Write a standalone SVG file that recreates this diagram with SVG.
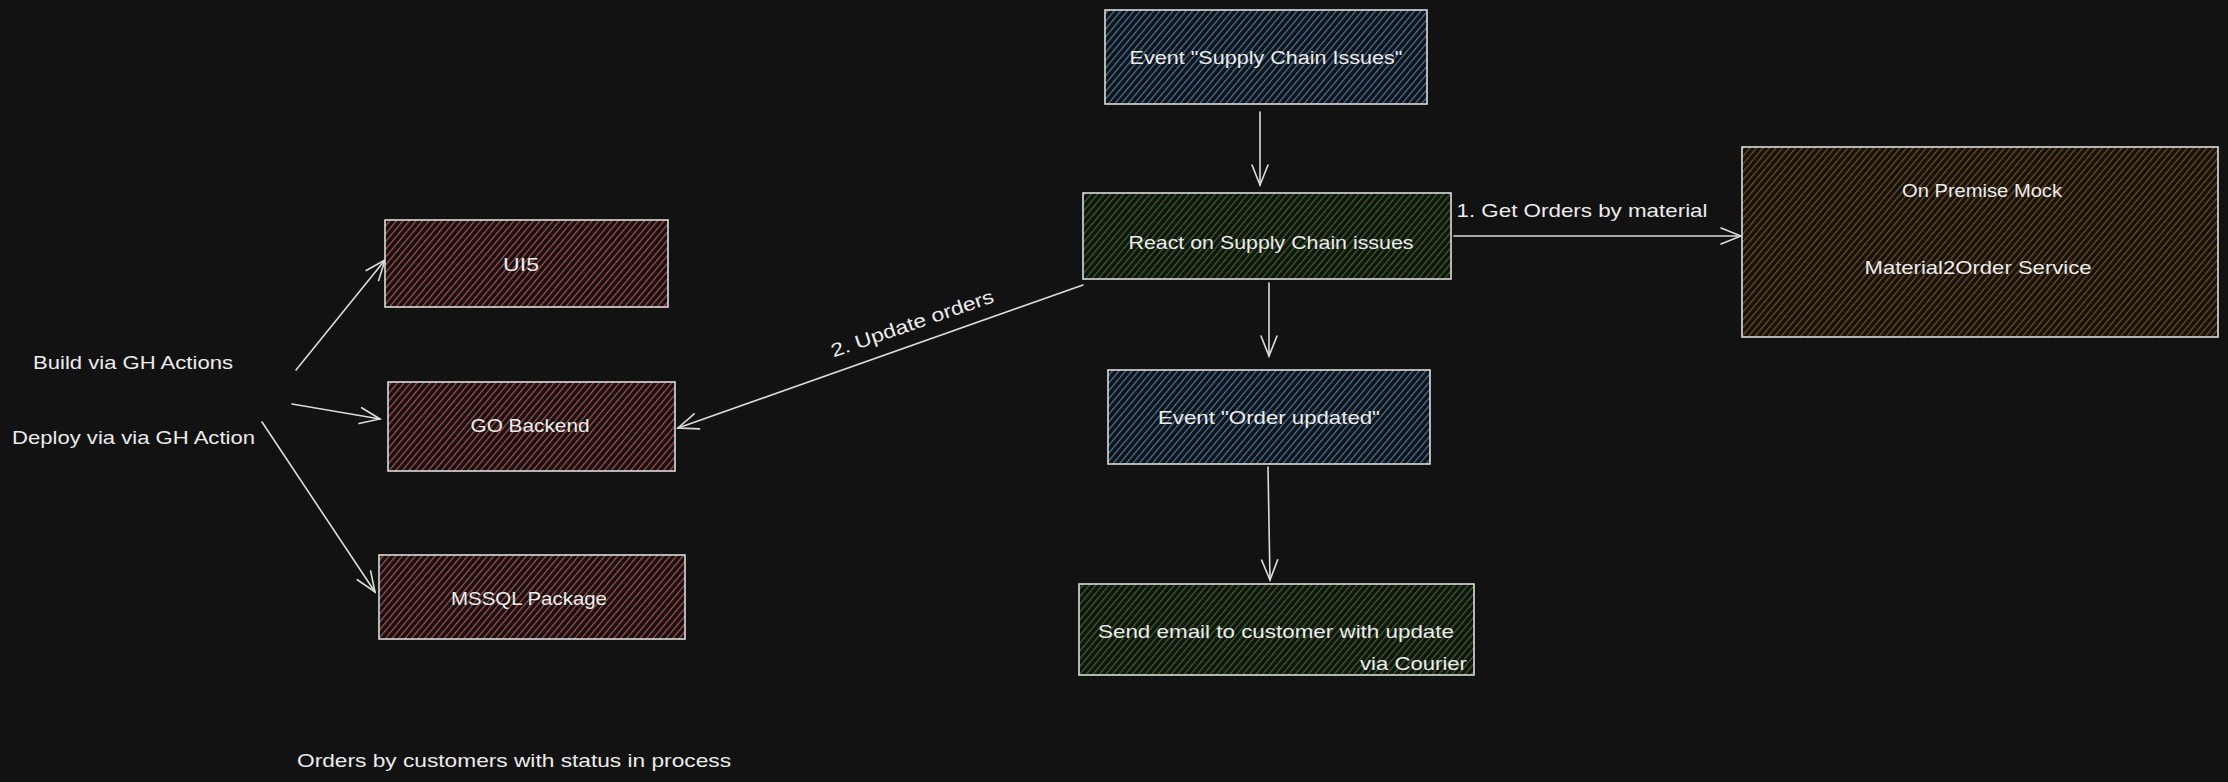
<svg xmlns="http://www.w3.org/2000/svg" width="2228" height="782" viewBox="0 0 2228 782">
<style>
.bg{fill:#121212}
.box{stroke:#dcdcdc;stroke-width:1.6}
.t{font-family:"Liberation Sans","DejaVu Sans",sans-serif;font-size:19px;fill:#ececec}
.c{fill:none;stroke:#dcdcdc;stroke-width:1.6;stroke-linecap:round}
</style>
<defs>
<pattern id="hBlue" width="5" height="5" patternUnits="userSpaceOnUse" patternTransform="rotate(40)"><rect width="5" height="5" fill="#121212"/><line x1="0" y1="0" x2="0" y2="5" stroke="#4479b0" stroke-width="2.4"/></pattern>
<pattern id="hRed" width="5" height="5" patternUnits="userSpaceOnUse" patternTransform="rotate(40)"><rect width="5" height="5" fill="#121212"/><line x1="0" y1="0" x2="0" y2="5" stroke="#b84c4c" stroke-width="2.4"/></pattern>
<pattern id="hGreen" width="5" height="5" patternUnits="userSpaceOnUse" patternTransform="rotate(40)"><rect width="5" height="5" fill="#121212"/><line x1="0" y1="0" x2="0" y2="5" stroke="#376a20" stroke-width="2.4"/></pattern>
<pattern id="hBrown" width="5" height="5" patternUnits="userSpaceOnUse" patternTransform="rotate(40)"><rect width="5" height="5" fill="#121212"/><line x1="0" y1="0" x2="0" y2="5" stroke="#7c4f14" stroke-width="2.4"/></pattern>
<marker id="arr" markerWidth="24" markerHeight="24" refX="22" refY="12" orient="auto" markerUnits="userSpaceOnUse"><path d="M2,4 L22,12 L2,20" fill="none" stroke="#dcdcdc" stroke-width="1.6" stroke-linecap="round"/></marker>
</defs>
<rect class="bg" x="0" y="0" width="2228" height="782"/>

<g id="connectors">
<line class="c" x1="1260" y1="112" x2="1260" y2="185" marker-end="url(#arr)"/>
<line class="c" x1="1269" y1="283" x2="1269" y2="356" marker-end="url(#arr)"/>
<line class="c" x1="1268" y1="467" x2="1270" y2="580" marker-end="url(#arr)"/>
<line class="c" x1="1454" y1="236" x2="1741" y2="236" marker-end="url(#arr)"/>
<line class="c" x1="1083" y1="285" x2="678" y2="428" marker-end="url(#arr)"/>
<line class="c" x1="296" y1="370" x2="385" y2="260" marker-end="url(#arr)"/>
<line class="c" x1="292" y1="404" x2="380" y2="419" marker-end="url(#arr)"/>
<line class="c" x1="262" y1="422" x2="375" y2="592" marker-end="url(#arr)"/>
<text class="t" x="1582" y="217" text-anchor="middle" textLength="251" lengthAdjust="spacingAndGlyphs">1. Get Orders by material</text>
<text class="t" x="0" y="7" text-anchor="middle" textLength="171" lengthAdjust="spacingAndGlyphs" transform="translate(912,323) rotate(-19)">2. Update orders</text>
</g>

<g id="event-supply">
<rect class="box" x="1105" y="10" width="322" height="94" fill="url(#hBlue)"/>
<text class="t" x="1266" y="64" text-anchor="middle" textLength="273" lengthAdjust="spacingAndGlyphs">Event "Supply Chain Issues"</text>
</g>

<g id="react-supply">
<rect class="box" x="1083" y="193" width="368" height="86" fill="url(#hGreen)"/>
<text class="t" x="1271" y="249" text-anchor="middle" textLength="285" lengthAdjust="spacingAndGlyphs">React on Supply Chain issues</text>
</g>

<g id="on-premise">
<rect class="box" x="1742" y="147" width="476" height="190" fill="url(#hBrown)"/>
<text class="t" x="1982" y="197" text-anchor="middle" textLength="160" lengthAdjust="spacingAndGlyphs">On Premise Mock</text>
<text class="t" x="1978" y="274" text-anchor="middle" textLength="227" lengthAdjust="spacingAndGlyphs">Material2Order Service</text>
</g>

<g id="event-order">
<rect class="box" x="1108" y="370" width="322" height="94" fill="url(#hBlue)"/>
<text class="t" x="1269" y="424" text-anchor="middle" textLength="222" lengthAdjust="spacingAndGlyphs">Event "Order updated"</text>
</g>

<g id="send-email">
<rect class="box" x="1079" y="584" width="395" height="91" fill="url(#hGreen)"/>
<text class="t" x="1098" y="638" textLength="356" lengthAdjust="spacingAndGlyphs">Send email to customer with update</text>
<text class="t" x="1467" y="670" text-anchor="end" textLength="107" lengthAdjust="spacingAndGlyphs">via Courier</text>
</g>

<g id="ui5">
<rect class="box" x="385" y="220" width="283" height="87" fill="url(#hRed)"/>
<text class="t" x="521" y="271" text-anchor="middle" textLength="36" lengthAdjust="spacingAndGlyphs">UI5</text>
</g>

<g id="go-backend">
<rect class="box" x="388" y="382" width="287" height="89" fill="url(#hRed)"/>
<text class="t" x="530" y="432" text-anchor="middle" textLength="119" lengthAdjust="spacingAndGlyphs">GO Backend</text>
</g>

<g id="mssql">
<rect class="box" x="379" y="555" width="306" height="84" fill="url(#hRed)"/>
<text class="t" x="529" y="605" text-anchor="middle" textLength="156" lengthAdjust="spacingAndGlyphs">MSSQL Package</text>
</g>

<g id="build-label">
<text class="t" x="33" y="369" textLength="200" lengthAdjust="spacingAndGlyphs">Build via GH Actions</text>
</g>
<g id="deploy-label">
<text class="t" x="12" y="444" textLength="243" lengthAdjust="spacingAndGlyphs">Deploy via via GH Action</text>
</g>
<g id="orders-label">
<text class="t" x="297" y="767" textLength="434" lengthAdjust="spacingAndGlyphs">Orders by customers with status in process</text>
</g>
</svg>
